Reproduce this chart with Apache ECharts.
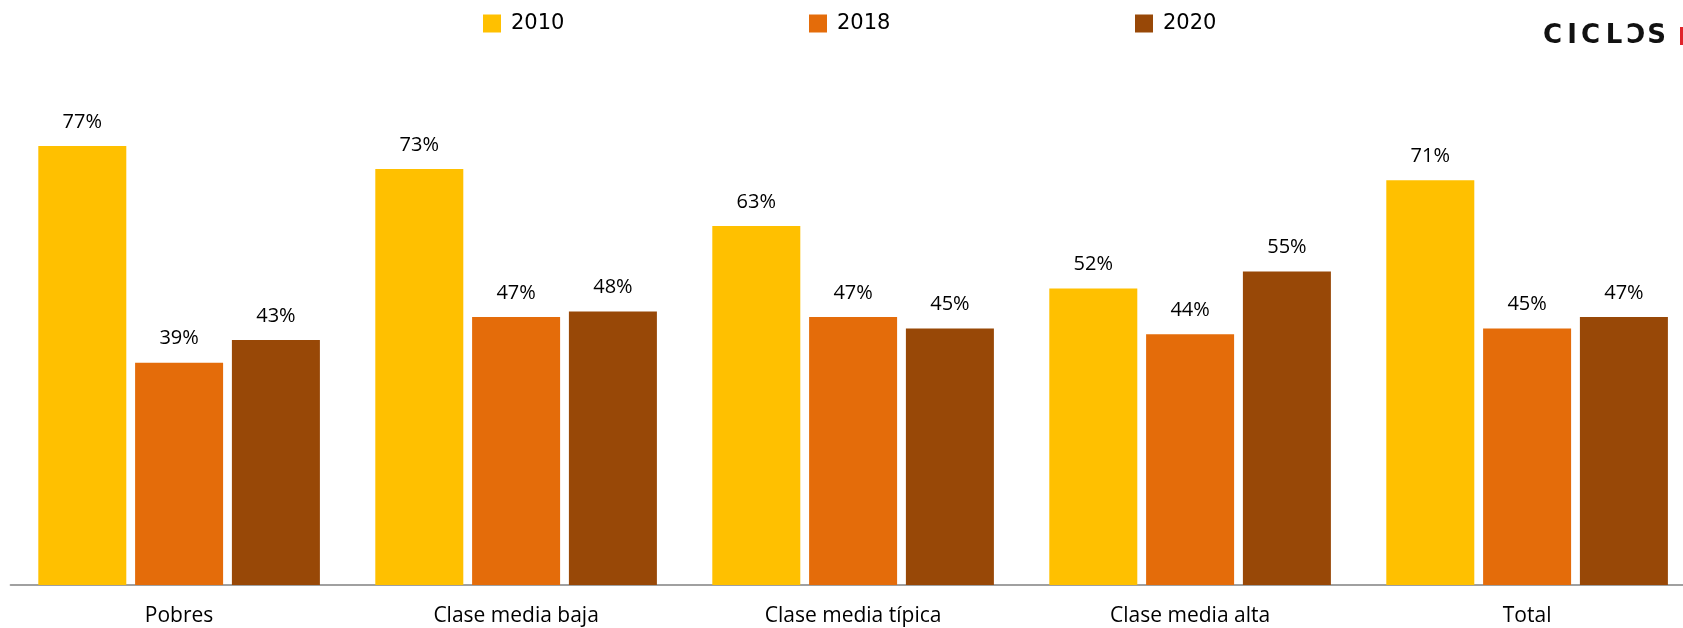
<!DOCTYPE html>
<html>
<head>
<meta charset="utf-8">
<script src="https://cdn.jsdelivr.net/npm/echarts@6/dist/echarts.min.js"></script>
<style>
  html, body { margin: 0; padding: 0; background: #fff; }
  #chart { width: 1683px; height: 628px; }
</style>
</head>
<body>
<div id="chart"></div>
<script>
// categorías y valores (%)
const categories = ['Pobres', 'Clase media baja', 'Clase media típica', 'Clase media alta', 'Total'];
const years = ['2010', '2018', '2020'];
const values2010 = [77, 73, 63, 52, 71];
const values2018 = [39, 47, 47, 44, 45];
const values2020 = [43, 48, 45, 55, 47];
const colors = ['#FFC000', '#E46C0A', '#984807'];

const seriesValues = [values2010, values2018, values2020];

const chart = echarts.init(document.getElementById('chart'));

const legendLeft = [483, 809, 1135];

// logo "CICLOS", letra por letra para imitar el espaciado
const logoLetters = ['C', 'I', 'C', 'L', '\u2183', 'S'];
const logoX = [1552.5, 1572, 1590.5, 1614, 1636, 1656.5];

const option = {
    animation: false,
    legend: years.map((y, i) => ({
        data: [y],
        left: legendLeft[i],
        top: 13,
        padding: 0,
        itemWidth: 18,
        itemHeight: 18,
        icon: 'rect',
        textStyle: {
            fontFamily: 'DejaVu Sans',
            fontSize: 21,
            color: '#000',
            padding: [0, 0, 0, 5]
        }
    })),
    grid: {
        left: 10.6,
        width: 1685,
        top: 15,
        bottom: 43,
        outerBoundsMode: 'none',
        containLabel: false
    },
    xAxis: {
        type: 'category',
        data: categories,
        axisLine: { lineStyle: { color: '#A0A0A0', width: 2 } },
        axisTick: { show: false },
        axisLabel: {
            fontFamily: 'Open Sans',
            fontSize: 21,
            color: '#000',
            margin: 21
        }
    },
    yAxis: {
        type: 'value',
        min: 0,
        max: 100,
        show: false,
        splitLine: { show: false }
    },
    series: years.map((y, i) => ({
        name: y,
        type: 'bar',
        barWidth: 88,
        barGap: '10%',
        itemStyle: { color: colors[i] },
        label: {
            show: true,
            position: 'top',
            distance: 14,
            formatter: '{c}%',
            fontFamily: 'Open Sans',
            fontSize: 20,
            color: '#000'
        },
        data: seriesValues[i]
    })),
    graphic: logoLetters.map((ch, i) => ({
        type: 'text',
        x: logoX[i],
        y: 36,
        style: {
            text: ch,
            font: 'bold 26px "DejaVu Sans"',
            fill: '#111',
            align: 'center',
            verticalAlign: 'middle'
        }
    })).concat([
        {
            type: 'rect',
            shape: { x: 1680, y: 27, width: 4, height: 18 },
            style: { fill: '#E0242B' }
        }
    ])
};

chart.setOption(option);
</script>
</body>
</html>
